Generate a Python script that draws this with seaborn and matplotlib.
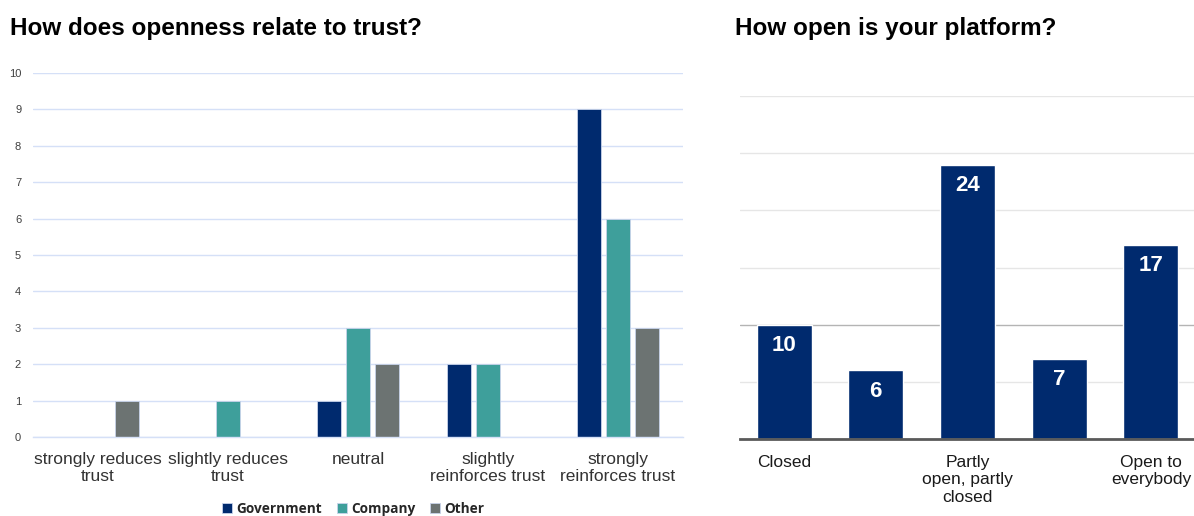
import numpy as np
import pandas as pd
import matplotlib
matplotlib.use("Agg")
import matplotlib.pyplot as plt
import seaborn as sns

# Left chart: relation of openness to trust, by respondent type
trust_categories = ["strongly reduces\ntrust", "slightly reduces\ntrust", "neutral",
                    "slightly\nreinforces trust", "strongly\nreinforces trust"]
groups = ["Government", "Company", "Other"]
government = [0, 0, 1, 2, 9]
company = [0, 1, 3, 2, 6]
other = [1, 0, 2, 0, 3]
trust_ticks = list(range(0, 11))

# Right chart: openness of the platform
platform_categories = ["Closed", "", "Partly\nopen, partly\nclosed", "", "Open to\neverybody"]
platform_keys = ["c0", "c1", "c2", "c3", "c4"]
platform_counts = [10, 6, 24, 7, 17]
platform_grid = [0, 5, 10, 15, 20, 25, 30]

NAVY = "#002a6e"
TEAL = "#3e9f9b"
GRAY = "#6c7372"

sns.set_theme(style="white")
plt.rcParams["font.family"] = ["Liberation Sans", "DejaVu Sans"]

fig = plt.figure(figsize=(11.94, 5.16), dpi=100)

# ---------- left chart ----------
df = pd.DataFrame({
    "category": np.repeat(trust_categories, len(groups)),
    "group": groups * len(trust_categories),
    "count": [v for trio in zip(government, company, other) for v in trio],
})
ax1 = fig.add_axes([0.0276, 0.1531, 0.5444, 0.7054])
sns.barplot(data=df, x="category", y="count", hue="group", order=trust_categories,
            hue_order=groups, palette=[NAVY, TEAL, GRAY], width=0.67, gap=0.2,
            edgecolor="#c8d3ea", linewidth=0.6, saturation=1, ax=ax1, legend=True)
ax1.set_ylim(0, 10)
ax1.set_xlim(-0.5, len(trust_categories) - 0.5)
ax1.set_yticks(trust_ticks)
ax1.yaxis.grid(True, color="#d5e0f7", linewidth=1)
ax1.set_axisbelow(True)
for side in ["top", "right", "left"]:
    ax1.spines[side].set_visible(False)
ax1.spines["bottom"].set_color("#d5e0f7")
ax1.spines["bottom"].set_linewidth(1)
ax1.tick_params(axis="y", labelsize=8, colors="#404040", length=0, pad=8.5)
ax1.tick_params(axis="x", labelsize=12.5, colors="#333333", length=0, pad=10.5)
ax1.set_xlabel("")
ax1.set_ylabel("")

# legend: one entry per group, laid out in a row below the left chart
handles, labels = ax1.get_legend_handles_labels()
ax1.legend_.remove()
legend_x = [222, 337, 430]
for h, lab, x in zip(handles, labels, legend_x):
    leg = fig.legend([h], [lab], loc="center left", bbox_to_anchor=(x / 1194, 1 - 509 / 516),
                     frameon=False, borderpad=0, borderaxespad=0, handlelength=0.75,
                     handleheight=0.75, handletextpad=0.3,
                     prop={"family": "Open Sans", "weight": "bold", "size": 9.8},
                     labelcolor="#262626")

# ---------- right chart ----------
pdf = pd.DataFrame({"key": platform_keys, "count": platform_counts})
ax2 = fig.add_axes([0.6198, 0.1492, 0.3802, 0.6647])
sns.barplot(data=pdf, x="key", y="count", order=platform_keys, color=NAVY,
            width=0.6, saturation=1, ax=ax2)
ax2.set_xlim(-0.48, 4.47)
ax2.set_ylim(0, 30)
ax2.set_yticks(platform_grid)
ax2.yaxis.grid(True, color="#e6e6e6", linewidth=1)
for gl, v in zip(ax2.get_ygridlines(), platform_grid):
    if v == 10:
        gl.set_color("#b4b4b4")
ax2.set_axisbelow(True)
ax2.tick_params(axis="y", left=False, labelleft=False)
for side in ["top", "right", "left"]:
    ax2.spines[side].set_visible(False)
ax2.spines["bottom"].set_color("#5a5a5a")
ax2.spines["bottom"].set_linewidth(2)
ax2.set_xticks(range(len(platform_keys)))
ax2.set_xticklabels(platform_categories)
ax2.tick_params(axis="x", labelsize=12.5, colors="#1a1a1a", length=0, pad=11.5)
ax2.set_xlabel("")
ax2.set_ylabel("")
for i, v in enumerate(platform_counts):
    ax2.annotate(str(v), (i, v), xytext=(0, -15), textcoords="offset points",
                 ha="center", va="center", color="white", fontsize=16, fontweight="bold")

# chart titles
fig.text(10 / 1194, 1 - 28 / 516, "How does openness relate to trust?", fontsize=17.5,
         fontweight="bold", ha="left", va="center", color="#000000")
fig.text(735 / 1194, 1 - 28 / 516, "How open is your platform?", fontsize=17.5,
         fontweight="bold", ha="left", va="center", color="#000000")

fig.savefig("out.png", dpi=100)
